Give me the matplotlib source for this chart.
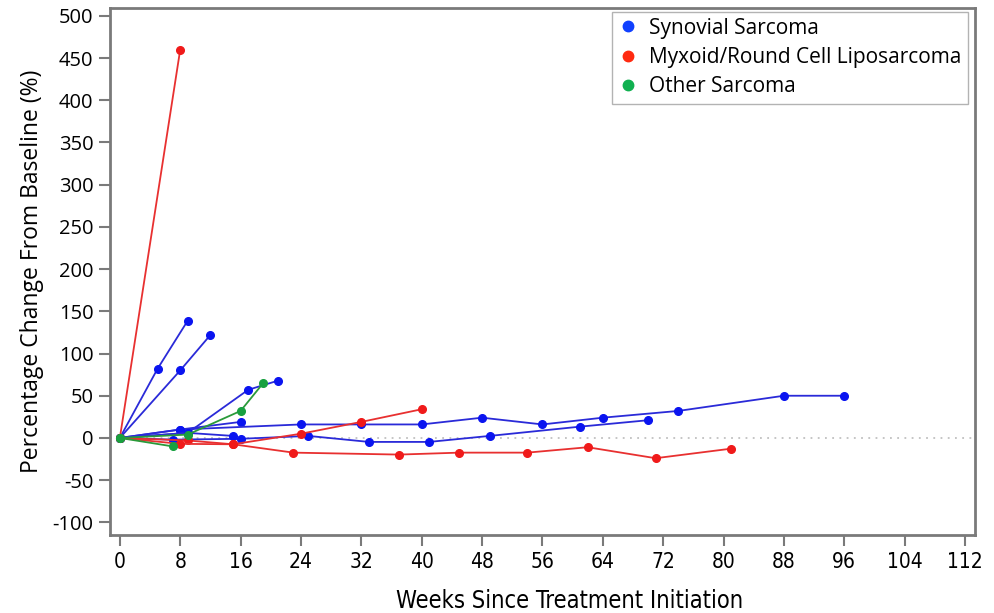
import matplotlib
matplotlib.use("Agg")
import matplotlib.pyplot as plt

# ---- data ----
blue_series = [
    ([0, 5, 9], [0, 82, 139]),
    ([0, 8, 12], [0, 80, 122]),
    ([0, 9, 17, 21], [0, 6, 57, 68]),
    ([0, 8, 16], [0, 10, 19]),
    ([0, 8, 24, 32, 40, 48, 56, 64, 74, 88, 96], [0, 10, 16, 16, 16, 24, 16, 24, 32, 50, 50]),
    ([0, 7, 16, 25, 33, 41, 49, 61, 70], [0, -2, -1, 2.4, -4.7, -4.7, 2.4, 13.4, 21]),
    ([0, 9, 15], [0, 6, 2.4]),
]
red_series = [
    ([0, 8], [0, 460]),
    ([0, 9, 15, 24, 32, 40], [0, -3, -7.5, 5, 19, 34]),
    ([0, 8, 15, 23, 37, 45, 54, 62, 71, 81], [0, -7, -7.5, -17.4, -19.7, -17.4, -17.4, -11, -24, -12.7]),
]
green_series = [
    ([0, 7], [0, -10]),
    ([0, 9, 16, 19], [0, 4, 32, 65]),
]
x_ticks = list(range(0, 113, 8))
y_ticks = list(range(-100, 501, 50))
legend_labels = ["Synovial Sarcoma", "Myxoid/Round Cell Liposarcoma", "Other Sarcoma"]

plt.rcParams['font.family'] = ['Open Sans', 'DejaVu Sans']

fig = plt.figure(figsize=(9.94, 6.13), dpi=100)
ax = fig.add_axes([0.1107, 0.1272, 0.870, 0.860])

line_cols = {"b": "#2a2ad8", "r": "#e83030", "g": "#2a9a3a"}
mark_cols = {"b": "#0a14f0", "r": "#f01a1a", "g": "#18a040"}

ax.axhline(0, color="#c0c0c0", lw=1.3, ls=(0, (1, 3)), zorder=1)

for key, group in (("b", blue_series), ("r", red_series), ("g", green_series)):
    for xs, ys in group:
        ax.plot(xs, ys, color=line_cols[key], lw=1.3, marker="o", ms=5.5,
                mfc=mark_cols[key], mec=mark_cols[key], zorder=3)

ax.set_xlim(-1.3, 113.3)
ax.set_ylim(-115, 509.5)
ax.set_xticks(x_ticks)
ax.set_yticks(y_ticks)
narrow = ['DejaVu Sans']
ax.set_xticklabels([str(t) for t in x_ticks], family=narrow, fontstretch='condensed', fontsize=15)
ax.set_yticklabels([str(t) for t in y_ticks], fontsize=14.5)

for s in ax.spines.values():
    s.set_color("#7a7a7a")
    s.set_linewidth(2)
ax.tick_params(direction="out", length=8, width=1.5, color="#7a7a7a", pad=4)

ax.set_xlabel("Weeks Since Treatment Initiation", family=narrow, fontstretch='condensed', fontsize=17)
ax.xaxis.set_label_coords(0.531, -0.103)
ax.set_ylabel("Percentage Change From Baseline (%)", fontsize=16.5, labelpad=6)

handles = [plt.Line2D([], [], ls="none", marker="o", ms=7.5, mfc=c, mec=c)
           for c in ("#1040ff", "#ff2a10", "#10b050")]
leg = ax.legend(handles, legend_labels, loc="upper right", fontsize=15,
                frameon=True, fancybox=False, edgecolor="#a0a0a0",
                handletextpad=0.5, handlelength=1.0, borderpad=0.3, labelspacing=0.4,
                borderaxespad=0, bbox_to_anchor=(0.992, 0.993))
leg.get_frame().set_linewidth(1)

fig.savefig("out.png", dpi=100)
